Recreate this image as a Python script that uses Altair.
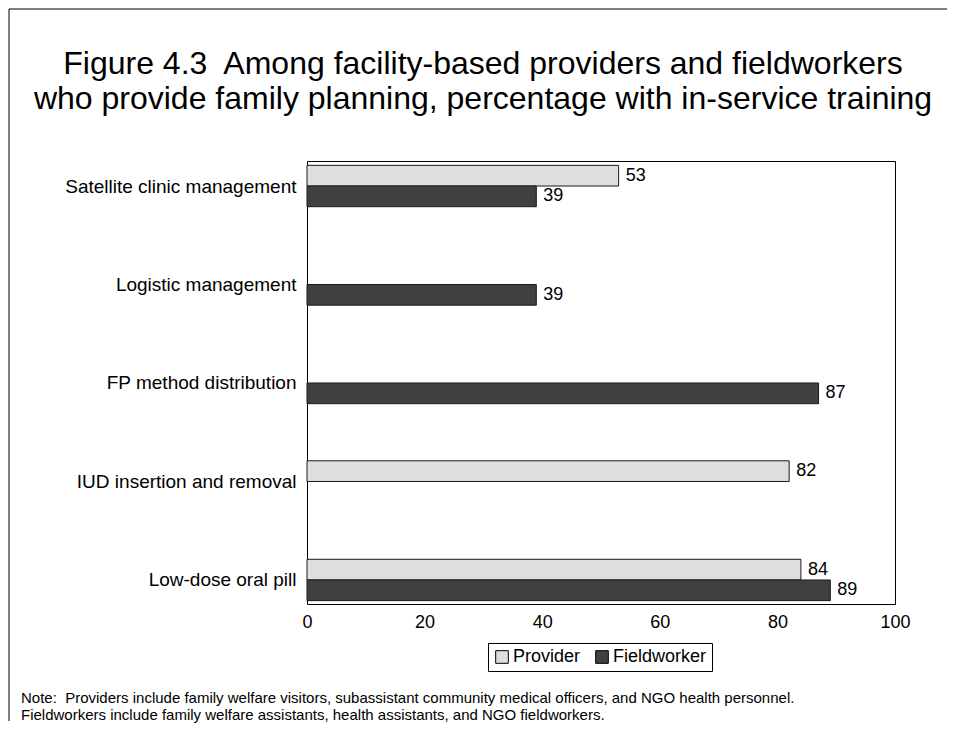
import json
import altair as alt
import pandas as pd

categories = [
    "Satellite clinic management",
    "Logistic management",
    "FP method distribution",
    "IUD insertion and removal",
    "Low-dose oral pill",
]
provider = [53, None, None, 82, 84]
fieldworker = [39, 39, 87, None, 89]
series = ["Provider", "Fieldworker"]
x_ticks = [0, 20, 40, 60, 80, 100]

title_lines = [
    "Figure 4.3\u00a0 Among facility-based providers and fieldworkers",
    "who provide family planning, percentage with in-service training",
]
note_lines = [
    "Note:\u00a0 Providers include family welfare visitors, subassistant community medical officers, and NGO health personnel.",
    "Fieldworkers include family welfare assistants, health assistants, and NGO fieldworkers.",
]

FONT = "Liberation Sans"
HALF = 0.21  # bar thickness in category-step units

rows = []
for i, cat in enumerate(categories):
    for s, vals in zip(series, [provider, fieldworker]):
        v = vals[i]
        if v is None:
            continue
        rows.append({"category": cat, "idx": i, "series": s, "value": v})
df = pd.DataFrame(rows)

label_expr = json.dumps(categories) + "[datum.value]"

y_scale = alt.Scale(domain=[-0.254, 4.244], reverse=True, nice=False, zero=False)
x_scale = alt.Scale(domain=[0, 100], nice=False)

base = alt.Chart(df).transform_calculate(
    y0=f"datum.idx + (datum.series == 'Provider' ? {-HALF} : 0)",
    y1=f"datum.idx + (datum.series == 'Provider' ? 0 : {HALF})",
    ymid=f"datum.idx + (datum.series == 'Provider' ? {-HALF/2} : {HALF/2})",
    zero="0",
)

bars = base.mark_rect(stroke="#1a1a1a", strokeWidth=1).encode(
    x=alt.X("value:Q", scale=x_scale,
            axis=alt.Axis(values=x_ticks, title=None, grid=False, ticks=False,
                          domain=False, labelFontSize=18, labelPadding=9, labelFlush=False,
                          labelColor="#000", labelFont=FONT)),
    x2="zero:Q",
    y=alt.Y("y0:Q", scale=y_scale,
            axis=alt.Axis(values=[0, 1, 2, 3, 4], labelExpr=label_expr, title=None,
                          grid=False, ticks=False, domain=False, labelFontSize=19,
                          labelPadding=11, labelLimit=0, labelColor="#000", labelFont=FONT)),
    y2="y1:Q",
    color=alt.Color("series:N",
                    scale=alt.Scale(domain=series, range=["#dedede", "#404040"]),
                    legend=alt.Legend(title=None, orient="none", legendX=181, legendY=482,
                                      direction="horizontal", strokeColor="#000",
                                      padding=5, symbolType="square", symbolSize=160,
                                      symbolStrokeColor="#000", symbolStrokeWidth=1,
                                      labelFontSize=18, labelFont=FONT, labelColor="#000",
                                      columnPadding=12, labelOffset=2)),
)

labels = base.mark_text(align="left", baseline="middle", dx=7, fontSize=18,
                        font=FONT, color="#000").encode(
    x=alt.X("value:Q", scale=x_scale),
    y=alt.Y("ymid:Q", scale=y_scale),
    text=alt.Text("value:Q"),
)

title = alt.Chart(pd.DataFrame({"t": ["\n".join(title_lines)]})).mark_text(
    align="center", baseline="alphabetic", fontSize=32, font=FONT, color="#000",
    lineBreak="\n", lineHeight=35,
).encode(text="t:N", x=alt.value(176), y=alt.value(-87))

note = alt.Chart(pd.DataFrame({"t": ["\n".join(note_lines)]})).mark_text(
    align="left", baseline="top", fontSize=15, font=FONT, color="#000",
    lineBreak="\n", lineHeight=17,
).encode(text="t:N", x=alt.value(-286), y=alt.value(530))

left_rule = alt.Chart(pd.DataFrame({"a": [0]})).mark_rule(color="#000", strokeWidth=1).encode(
    x=alt.value(-298), y=alt.value(-152), y2=alt.value(560))
top_rule = alt.Chart(pd.DataFrame({"a": [0]})).mark_rule(color="#000", strokeWidth=1).encode(
    x=alt.value(-298), x2=alt.value(640), y=alt.value(-152))

chart = alt.layer(bars, labels, title, note, left_rule, top_rule).properties(
    width=588, height=443, padding=0, background="white",
).configure(font=FONT).configure_view(stroke="#000", strokeWidth=1)

chart.save("out.html", embed_options={"renderer": "svg", "actions": False})
